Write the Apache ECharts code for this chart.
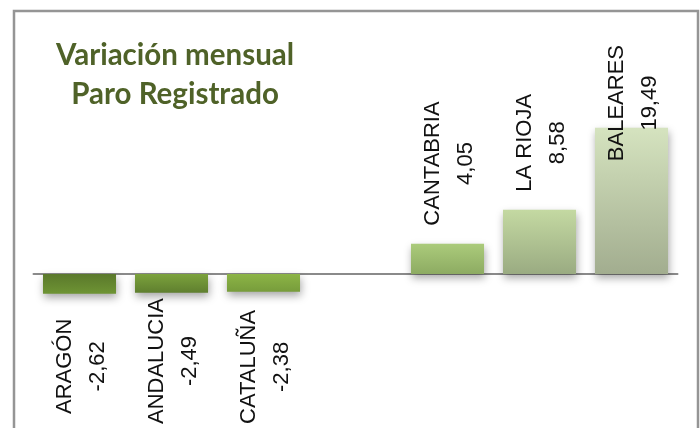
<!DOCTYPE html>
<html>
<head>
<meta charset="utf-8">
<script src="https://cdn.jsdelivr.net/npm/echarts@6/dist/echarts.min.js"></script>
<style>
html,body{margin:0;padding:0;background:#fff;}
#chart{width:700px;height:428px;}
</style>
</head>
<body>
<div id="chart"></div>
<script>
// ---- data ----
var categories = ['ARAGÓN', 'ANDALUCIA', 'CATALUÑA', '', 'CANTABRIA', 'LA RIOJA', 'BALEARES'];
var values = [-2.62, -2.49, -2.38, null, 4.05, 8.58, 19.49];
var titleLines = ['Variación mensual', 'Paro Registrado'];

// ---- styles ----
var gradTop = ['#5a782b', '#7ba23c', '#8cb446', '#ffffff', '#abcb7b', '#c4d9a2', '#d5e3bf'];
var gradBottom = ['#6e9434', '#5f7f2f', '#779c3b', '#ffffff', '#8dab62', '#9aab82', '#a2ad8f'];

function fmt(v) { return String(v.toFixed(2)).replace('.', ','); }

var chart = echarts.init(document.getElementById('chart'), null, {renderer: 'canvas'});
chart.setOption({
  animation: false,
  backgroundColor: '#ffffff',
  title: {
    text: titleLines.join('\n'),
    left: 170,
    top: 31,
    textAlign: 'center',
    textStyle: {
      fontFamily: 'Lato',
      fontWeight: 'bold',
      fontSize: 29.5,
      lineHeight: 39,
      color: '#4f6228'
    }
  },
  graphic: [{
    type: 'rect',
    shape: {x: 14, y: 11, width: 684, height: 440},
    style: {fill: 'none', stroke: '#959595', lineWidth: 2.5},
    silent: true
  }],
  grid: {left: 33.5, right: 22.5, top: 124, bottom: 4, containLabel: false},
  xAxis: {
    type: 'category',
    data: categories,
    axisLine: {onZero: true, lineStyle: {color: '#8a8a8a', width: 2}},
    axisTick: {show: false},
    axisLabel: {show: false},
    splitLine: {show: false}
  },
  yAxis: {
    type: 'value',
    min: -20,
    max: 20,
    show: false,
    splitLine: {show: false}
  },
  series: [{
    type: 'bar',
    data: values.map(function (v) { return v === null ? '-' : v; }),
    barCategoryGap: '20.6%',
    itemStyle: {
      color: function (p) {
        return new echarts.graphic.LinearGradient(0, 0, 0, 1, [
          {offset: 0, color: gradTop[p.dataIndex]},
          {offset: 1, color: gradBottom[p.dataIndex]}
        ]);
      },
      shadowColor: 'rgba(0,0,0,0.35)',
      shadowBlur: 8,
      shadowOffsetY: 4,
      shadowOffsetX: 1
    },
    label: {
      show: true,
      position: 'top',
      rotate: 90,
      align: 'center',
      verticalAlign: 'middle',
      fontFamily: 'Liberation Sans',
      fontSize: 22,
      lineHeight: 33,
      color: '#111111',
      formatter: function (p) {
        var v = values[p.dataIndex];
        if (v === null) return '';
        return categories[p.dataIndex] + '\n' + fmt(v);
      }
    },
    labelLayout: function (p) {
      var r = p.rect, lr = p.labelRect;
      var h = lr.height;
      var top = Math.min(r.y, r.y + r.height);
      var bot = Math.max(r.y, r.y + r.height);
      var cx = r.x + r.width / 2 + 2;
      var v = values[p.dataIndex];
      var y;
      if (v >= 0) {
        y = top - 18 - h / 2;
        y = Math.max(y, 45 + h / 2);
      } else {
        y = bot + 25 + h / 2;
        y = Math.min(y, 424 - h / 2);
      }
      return {x: cx, y: y};
    }
  }]
});
</script>
</body>
</html>
